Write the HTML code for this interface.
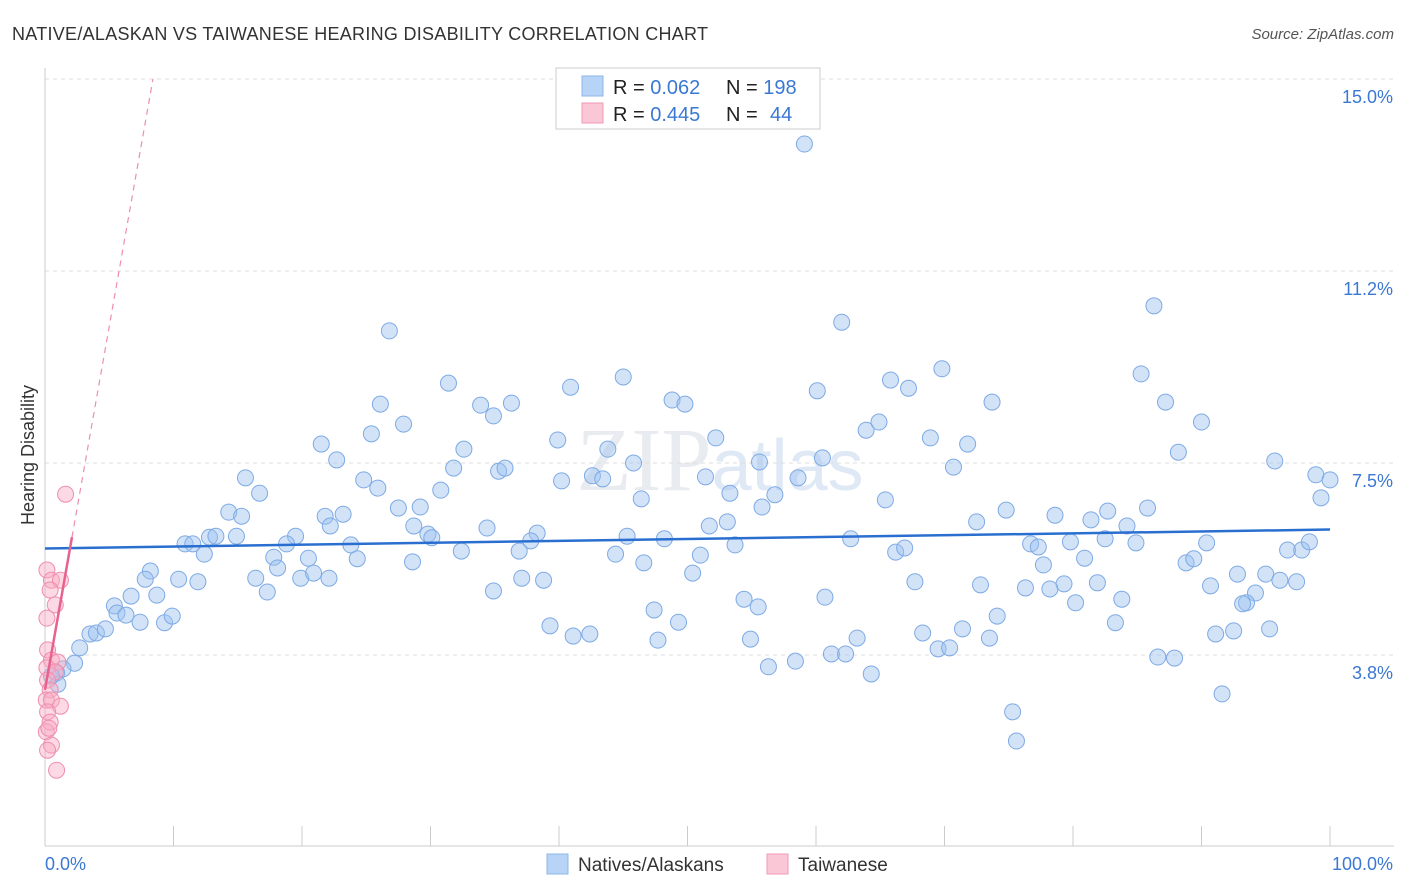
<!DOCTYPE html>
<html><head><meta charset="utf-8"><style>
body{margin:0;background:#fff;font-family:"Liberation Sans",sans-serif;}
svg{display:block}
</style></head><body>
<svg id="chart" width="1406" height="892" xmlns="http://www.w3.org/2000/svg">
<text x="12" y="40" font-size="18" fill="#333" textLength="696">NATIVE/ALASKAN VS TAIWANESE HEARING DISABILITY CORRELATION CHART</text>
<text x="1394" y="39" font-size="15" fill="#555" font-style="italic" text-anchor="end">Source: ZipAtlas.com</text>
<text x="720" y="490" font-size="90" fill="#e8ebf0" text-anchor="middle" font-family="Liberation Serif,serif">ZIP<tspan font-family="Liberation Sans,sans-serif" font-size="72" fill="#dfe8f5">atlas</tspan></text>
<text transform="translate(34,455) rotate(-90)" font-size="18" fill="#333" text-anchor="middle">Hearing Disability</text>
<g id="grid"></g><g id="axes"></g><g id="marks"></g>
<g>
<rect x="556" y="68" width="264" height="61" fill="#fff" stroke="#ccc"/>
<rect x="582" y="76" width="21" height="20" fill="#b7d3f5" stroke="#8fb6e8"/>
<rect x="582" y="103" width="21" height="20" fill="#fac7d6" stroke="#f09ab6"/>
<text x="613" y="94" font-size="20" fill="#222">R = <tspan fill="#3a78d4">0.062</tspan></text>
<text x="726" y="94" font-size="20" fill="#222">N = <tspan fill="#3a78d4">198</tspan></text>
<text x="613" y="121" font-size="20" fill="#222">R = <tspan fill="#3a78d4">0.445</tspan></text>
<text x="726" y="121" font-size="20" fill="#222">N = <tspan x="770" fill="#3a78d4">44</tspan></text>
</g>
<g>
<rect x="547" y="854" width="21" height="20" fill="#b7d3f5" stroke="#8fb6e8"/>
<text x="578" y="871" font-size="19" fill="#333">Natives/Alaskans</text>
<rect x="767" y="854" width="21" height="20" fill="#fac7d6" stroke="#f09ab6"/>
<text x="798" y="871" font-size="19" fill="#333">Taiwanese</text>
</g>
</svg>
<script>
const yTicks=[3.75,7.5,11.25,15];
const yTickLabels=["3.8%","7.5%","11.2%","15.0%"];
const xTickCount=10;
const xLabels=["0.0%","100.0%"];
const blueX=[59.1,26.8,62.0,86.3,31.4,40.9,45.0,69.8,65.8,67.2,60.1,85.3,26.1,33.9,36.3,34.9,48.8,49.8,73.7,87.2,27.9,25.4,21.5,22.7,32.6,39.9,43.8,52.2,63.9,64.9,68.9,71.8,90.0,88.2,95.7,15.6,16.7,24.8,25.9,30.8,31.8,35.3,35.8,40.2,42.6,43.4,45.8,46.4,51.4,53.3,55.6,55.8,56.8,58.6,60.5,65.4,70.7,74.8,78.6,81.4,82.7,85.8,84.2,98.9,100,99.3,14.3,15.3,12.8,13.3,10.9,11.5,12.4,14.9,21.8,23.2,22.2,27.5,29.2,28.7,29.8,30.1,34.4,38.3,37.8,36.9,32.4,19.5,18.8,17.8,20.5,24.3,23.8,28.6,45.3,44.4,46.6,48.2,51.0,51.7,53.1,53.7,62.7,66.2,66.9,72.5,76.7,77.3,79.8,80.9,82.5,84.9,88.8,89.4,90.4,96.7,97.8,98.4,95.0,92.8,96.1,97.4,90.7,94.2,93.5,93.2,79.3,78.2,76.3,81.9,72.8,67.7,83.8,80.2,77.7,74.1,71.4,68.3,69.5,70.4,73.5,75.3,75.6,83.3,86.6,87.9,91.1,92.5,95.3,91.6,8.2,7.8,10.4,11.9,6.7,8.7,5.4,5.6,6.3,7.4,9.3,9.9,3.5,4.0,4.7,2.7,2.3,1.4,0.9,1.0,0.5,37.1,38.8,34.9,39.3,41.1,42.4,47.4,47.7,49.3,54.4,55.5,54.9,56.3,58.4,60.7,61.2,62.3,63.2,64.3,50.4,16.4,17.3,18.1,19.9,20.9,22.1];
const blueY=[13.73,10.08,10.25,10.57,9.06,8.98,9.18,9.34,9.12,8.96,8.91,9.24,8.65,8.63,8.67,8.42,8.73,8.65,8.69,8.69,8.26,8.07,7.87,7.56,7.77,7.95,7.77,7.99,8.14,8.30,7.99,7.87,8.30,7.71,7.54,7.21,6.91,7.17,7.01,6.97,7.40,7.34,7.40,7.15,7.25,7.19,7.50,6.80,7.23,6.91,7.52,6.64,6.88,7.21,7.60,6.78,7.42,6.58,6.48,6.39,6.56,6.62,6.27,7.27,7.17,6.82,6.54,6.46,6.05,6.07,5.92,5.92,5.72,6.07,6.46,6.50,6.27,6.62,6.64,6.27,6.11,6.04,6.23,6.13,5.98,5.78,5.78,6.07,5.92,5.66,5.64,5.63,5.90,5.57,6.07,5.72,5.55,6.02,5.70,6.27,6.35,5.90,6.02,5.76,5.84,6.35,5.92,5.86,5.96,5.64,6.02,5.94,5.55,5.63,5.94,5.80,5.80,5.96,5.33,5.33,5.21,5.18,5.10,4.96,4.77,4.75,5.14,5.04,5.06,5.16,5.12,5.18,4.84,4.77,5.51,4.51,4.26,4.18,3.87,3.89,4.08,2.64,2.07,4.38,3.71,3.69,4.16,4.22,4.26,2.99,5.39,5.23,5.23,5.18,4.90,4.92,4.71,4.57,4.53,4.39,4.38,4.51,4.16,4.18,4.26,3.89,3.59,3.48,3.40,3.18,3.34,5.25,5.21,5.00,4.32,4.12,4.16,4.63,4.04,4.39,4.84,4.69,4.06,3.52,3.63,4.88,3.77,3.77,4.08,3.38,5.35,5.25,4.98,5.45,5.25,5.35,5.25];
const pinkX=[1.6,0.15,0.5,1.2,0.4,0.8,0.15,0.2,0.5,1.0,0.15,0.8,0.2,0.4,0.1,0.5,1.2,0.2,0.4,0.1,0.5,0.2,0.9,0.3];
const pinkY=[6.89,5.41,5.21,5.21,5.02,4.73,4.47,3.85,3.65,3.61,3.50,3.42,3.26,3.07,2.87,2.87,2.75,2.64,2.44,2.25,1.99,1.89,1.50,2.32];
const blueTrend=[5.83,6.20];
const pinkTrend=[3.07,1.42];
const pinkSolidEnd=2.1;

const X=v=>45+v*12.85, Y=v=>847-v*51.2;
const NS="http://www.w3.org/2000/svg";
function mk(tag,attrs,parent){const e=document.createElementNS(NS,tag);for(const k in attrs)e.setAttribute(k,attrs[k]);parent.appendChild(e);return e;}
const grid=document.getElementById('grid'),axes=document.getElementById('axes'),marks=document.getElementById('marks');
yTicks.forEach((t,i)=>{
 const l=mk('line',{x1:45,x2:1394,y1:Y(t),y2:Y(t),stroke:'#ddd','stroke-dasharray':'4,4'},grid);
 
 
 const tx=mk('text',{x:1393,y:Y(t)+24,'font-size':18,fill:'#3a78d4','text-anchor':'end'},axes);
 tx.textContent=yTickLabels[i];
 
 
});
const ax=mk('line',{x1:45,x2:1394,y1:846,y2:846,stroke:'#ccc'},axes);


const ay=mk('line',{x1:45,x2:45,y1:68,y2:846,stroke:'#ccc'},axes);


for(let i=0;i<=xTickCount;i++){
 const t=mk('line',{x1:X(i*10),x2:X(i*10),y1:826,y2:846,stroke:'#ccc'},axes);
 
 
}
[[X(0),'start',xLabels[0]],[1393,'end',xLabels[1]]].forEach(([x,a,s])=>{
 const t=mk('text',{x:x,y:870,'font-size':18,fill:'#3a78d4','text-anchor':a},axes);t.textContent=s;
 
 
});
blueX.forEach((v,i)=>{
 const c=mk('circle',{cx:X(v),cy:Y(blueY[i]),r:8,fill:'rgba(155,192,240,0.45)',stroke:'#7eaae4','stroke-width':1},marks);
 
 
});
pinkX.forEach((v,i)=>{
 const c=mk('circle',{cx:X(v),cy:Y(pinkY[i]),r:8,fill:'rgba(248,170,195,0.45)',stroke:'#ee8eae','stroke-width':1},marks);
 
 
});
const bt=mk('line',{x1:X(0),y1:Y(blueTrend[0]),x2:X(100),y2:Y(blueTrend[1]),stroke:'#2a6fd0','stroke-width':2.5},marks);


const pv=x=>pinkTrend[0]+pinkTrend[1]*x;
const xTop=(15-pinkTrend[0])/pinkTrend[1];
const pd=mk('line',{x1:X(pinkSolidEnd),y1:Y(pv(pinkSolidEnd)),x2:X(xTop),y2:Y(15),stroke:'#ee8eae','stroke-width':1.2,'stroke-dasharray':'6,5'},marks);


const ps=mk('line',{x1:X(0),y1:Y(pv(0)),x2:X(pinkSolidEnd),y2:Y(pv(pinkSolidEnd)),stroke:'#e8628e','stroke-width':2.5},marks);


</script>
</body></html>
